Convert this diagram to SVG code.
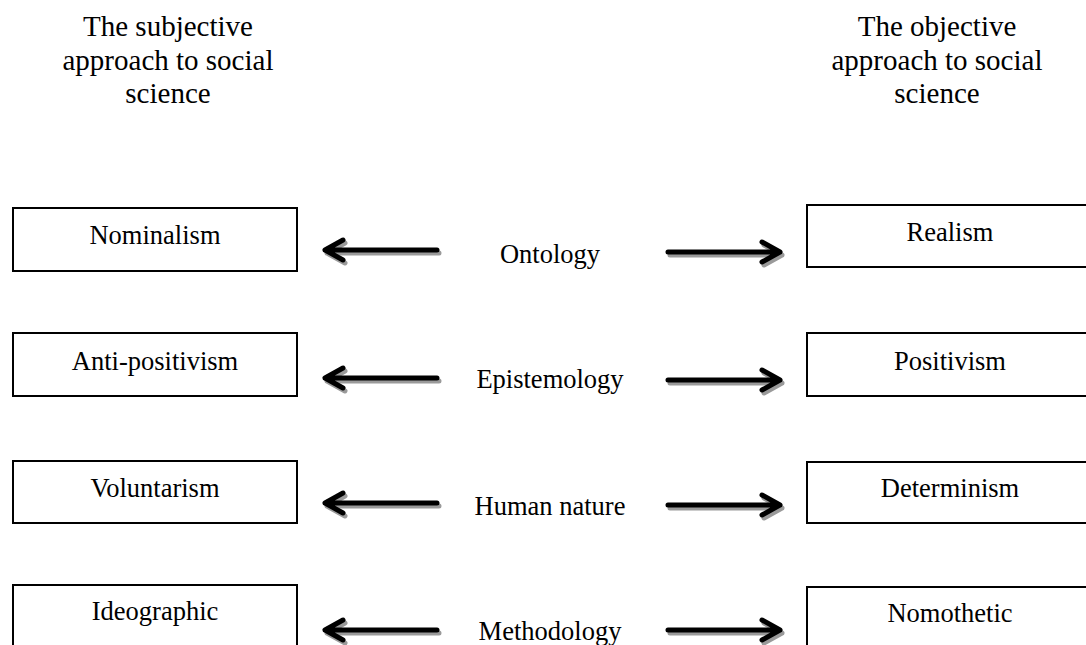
<svg xmlns="http://www.w3.org/2000/svg" width="1086" height="645" viewBox="0 0 1086 645">
<style>
  text { font-family: "Liberation Serif", "Times New Roman", serif; fill: #000; text-anchor: middle; }
  .title { font-size: 29px; }
  .lbl { font-size: 26.5px; }
  .box { fill: #fff; stroke: #000; stroke-width: 2; }
  .arr { fill: none; stroke: #000; stroke-width: 5; stroke-linecap: round; stroke-linejoin: round; }
  .shadow { fill: none; stroke: #9a9a9a; stroke-width: 5; stroke-linecap: round; stroke-linejoin: round; }
</style>
<defs>
  <g id="arrL">
    <path class="shadow" transform="translate(2,3)" d="M114 0 H2 M20 -10 L2 0 L20 10"/>
    <path class="arr" d="M114 0 H2 M20 -10 L2 0 L20 10"/>
  </g>
  <g id="arrR">
    <path class="shadow" transform="translate(2,3)" d="M0 0 H112 M94 -10 L112 0 L94 10"/>
    <path class="arr" d="M0 0 H112 M94 -10 L112 0 L94 10"/>
  </g>
</defs>
<rect width="1086" height="645" fill="#fff"/>
<g id="title-left">
  <text class="title" x="168" y="36">The subjective</text>
  <text class="title" x="168" y="70">approach to social</text>
  <text class="title" x="168" y="103">science</text>
</g>
<g id="title-right">
  <text class="title" x="937" y="36">The objective</text>
  <text class="title" x="937" y="70">approach to social</text>
  <text class="title" x="937" y="103">science</text>
</g>
<g id="nominalism"><rect class="box" x="13" y="208" width="284" height="63"/><text class="lbl" x="155" y="244">Nominalism</text></g>
<g id="realism"><rect class="box" x="807" y="205" width="290" height="62"/><text class="lbl" x="950" y="241">Realism</text></g>
<g id="anti-positivism"><rect class="box" x="13" y="333" width="284" height="63"/><text class="lbl" x="155" y="370">Anti-positivism</text></g>
<g id="positivism"><rect class="box" x="807" y="333" width="290" height="63"/><text class="lbl" x="950" y="370">Positivism</text></g>
<g id="voluntarism"><rect class="box" x="13" y="461" width="284" height="62"/><text class="lbl" x="155" y="497">Voluntarism</text></g>
<g id="determinism"><rect class="box" x="807" y="462" width="290" height="61"/><text class="lbl" x="950" y="497">Determinism</text></g>
<g id="ideographic"><rect class="box" x="13" y="585" width="284" height="70"/><text class="lbl" x="155" y="620">Ideographic</text></g>
<g id="nomothetic"><rect class="box" x="807" y="587" width="290" height="70"/><text class="lbl" x="950" y="622">Nomothetic</text></g>
<g id="ontology"><text class="lbl" x="550" y="263">Ontology</text></g>
<g id="epistemology"><text class="lbl" x="550" y="388">Epistemology</text></g>
<g id="human-nature"><text class="lbl" x="550" y="515">Human nature</text></g>
<g id="methodology"><text class="lbl" x="550" y="640">Methodology</text></g>
<g id="connectors">
  <use href="#arrL" x="323" y="250"/>
  <use href="#arrR" x="668" y="252"/>
  <use href="#arrL" x="323" y="378"/>
  <use href="#arrR" x="668" y="380"/>
  <use href="#arrL" x="323" y="503"/>
  <use href="#arrR" x="668" y="505"/>
  <use href="#arrL" x="323" y="630"/>
  <use href="#arrR" x="668" y="630"/>
</g>
</svg>
